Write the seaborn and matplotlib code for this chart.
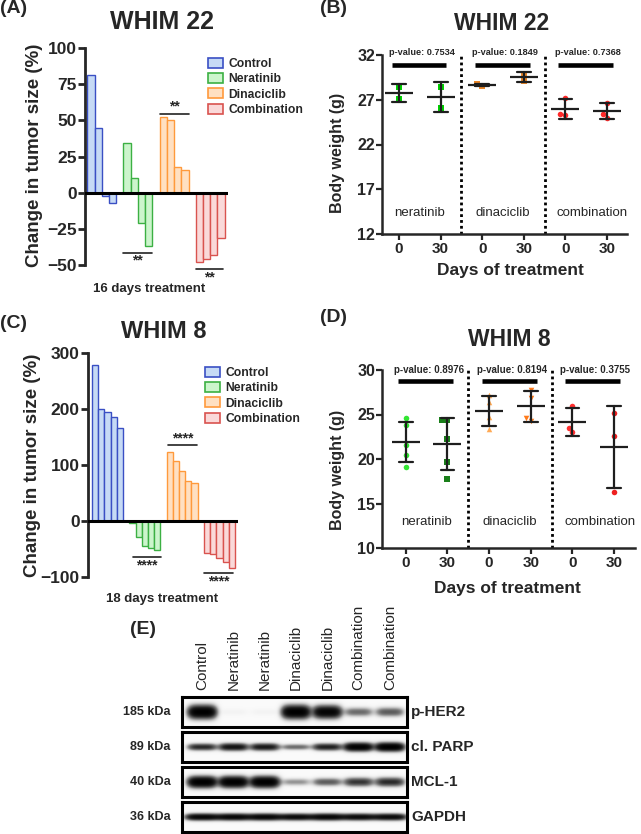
import numpy as np
import pandas as pd
import seaborn as sns
import matplotlib.pyplot as plt
from matplotlib.patches import Patch
import matplotlib.transforms as mtransforms

sns.set_style("ticks")
plt.rcParams["font.family"] = ["Liberation Sans", "DejaVu Sans"]
plt.rcParams["font.weight"] = "bold"
plt.rcParams["axes.labelweight"] = "bold"

# waterfall plots: % change in tumor size per mouse
groups = ["Control", "Neratinib", "Dinaciclib", "Combination"]
w22_control = [81, 45, -2, -7]
w22_neratinib = [34, 10, -21, -37]
w22_dinaciclib = [52, 50, 18, 16]
w22_combination = [-48, -46, -43, -31]

w8_control = [278, 200, 194, 185, 166]
w8_neratinib = [-4, -28, -45, -48, -52]
w8_dinaciclib = [124, 107, 89, 71, 68]
w8_combination = [-56, -59, -66, -72, -84]

face_colors = ["#c6daf5", "#ccf5cc", "#ffe0c2", "#fad9d9"]
edge_colors = ["#3a4fc4", "#3cb043", "#ff9a3c", "#d9534f"]

# body weight (g) at day 0 / day 30
slots = ["ner_0", "ner_30", "din_0", "din_30", "comb_0", "comb_30"]
day_labels = ["0", "30", "0", "30", "0", "30"]
arms = ["neratinib", "dinaciclib", "combination"]
p_w22 = ["0.7534", "0.1849", "0.7368"]
p_w8 = ["0.8976", "0.8194", "0.3755"]

w22_ner_d0 = [28.45, 27.07]
w22_ner_d30 = [28.45, 26.13]
w22_din_d0 = [28.55, 28.75]
w22_din_d30 = [29.1, 29.9]
w22_comb_d0 = [27.2, 25.3, 25.4]
w22_comb_d30 = [26.69, 24.97, 25.46]

w8_ner_d0 = [24.6, 23.8, 21.6, 20.5, 19.1]
w8_ner_d30 = [24.4, 24.4, 22.2, 19.7, 17.7]
w8_din_d0 = [26.4, 27.2, 24.7, 23.4]
w8_din_d30 = [27.8, 26.9, 24.3, 24.6]
w8_comb_d0 = [25.9, 23.5, 23.0]
w8_comb_d30 = [25.15, 22.6, 16.3]

# western blot (relative band darkness per lane)
lanes = ["Control", "Neratinib", "Neratinib", "Dinaciclib", "Dinaciclib",
         "Combination", "Combination"]
proteins = ["p-HER2", "cl. PARP", "MCL-1", "GAPDH"]
kda = ["185 kDa", "89 kDa", "40 kDa", "36 kDa"]
band_pher2 = [1.0, 0.02, 0.02, 1.0, 0.9, 0.3, 0.35]
band_parp = [0.55, 0.7, 0.65, 0.3, 0.6, 0.95, 1.0]
band_mcl1 = [1.0, 1.0, 1.0, 0.2, 0.35, 0.5, 0.55]
band_gapdh = [0.85, 0.85, 0.85, 0.8, 0.85, 0.8, 0.8]

W, H = 641, 834
fig = plt.figure(figsize=(W / 100, H / 100), dpi=100)


def box(x0, y0, x1, y1):
    return [x0 / W, 1 - y1 / H, (x1 - x0) / W, (y1 - y0) / H]


def ftext(x, y, s, **kw):
    fig.text(x / W, 1 - y / H, s, **kw)


def waterfall(ax, series, xlim, ylim, yticks, sigs, legend_at):
    order = []
    for gi, vals in enumerate(series):
        if gi:
            order.append(f"gap{gi}")
        order += [f"{groups[gi]}_{i}" for i in range(len(vals))]
    for gi, vals in enumerate(series):
        bars = [f"{groups[gi]}_{i}" for i in range(len(vals))]
        sns.barplot(x=bars, y=vals, order=order, width=1, color=face_colors[gi],
                    edgecolor=edge_colors[gi], linewidth=1, saturation=1,
                    errorbar=None, ax=ax)
    ax.axhline(0, color="black", lw=2.2, zorder=5)
    ax.set_xlim(*xlim)
    ax.set_ylim(*ylim)
    ax.set_yticks(yticks)
    ax.set_xticks([])
    ax.set_xlabel("")
    ax.set_ylabel("")
    for s in ["top", "right", "bottom"]:
        ax.spines[s].set_visible(False)
    ax.spines["left"].set_linewidth(2)
    ax.tick_params(axis="y", labelsize=12.5, length=5, width=2, pad=1)
    for x0, x1, y, ty, txt in sigs:
        ax.plot([x0, x1], [y, y], color="#222222", lw=1.2, clip_on=False)
        ax.text((x0 + x1) / 2, ty, txt, ha="center", va="center",
                fontsize=10, clip_on=False)
    handles = [Patch(facecolor=f, edgecolor=e, lw=1.2, label=g)
               for f, e, g in zip(face_colors, edge_colors, groups)]
    ax.legend(handles=handles, loc="upper left",
              bbox_to_anchor=(legend_at[0] / W, 1 - legend_at[1] / H),
              bbox_transform=fig.transFigure, frameon=False,
              prop={"weight": "bold", "size": 8.7}, handlelength=1.2,
              handleheight=0.9, handletextpad=0.5, labelspacing=0.25,
              borderpad=0, borderaxespad=0)


def weights(ax, data, markers, colors, pvals, pbar_y, ptext_y, label_y,
            xlim, ylim, yticks, pfs):
    rows = [(s, v) for s, vals in zip(slots, data) for v in vals]
    df = pd.DataFrame(rows, columns=["slot", "weight"])
    for s, vals, m, c in zip(slots, data, markers, colors):
        sns.swarmplot(x=[s] * len(vals), y=vals, order=slots, color=c,
                      marker=m, size=4, ax=ax, zorder=2)
    sns.pointplot(data=df, x="slot", y="weight", order=slots, errorbar="sd",
                  capsize=0.33, color="#1e1e1e", marker="_", markersize=20,
                  markeredgewidth=1.6, linestyle="none",
                  err_kws={"linewidth": 1.6}, ax=ax, zorder=3)
    for xs in [1.5, 3.5]:
        ax.axvline(xs, color="black", lw=2, ls=(0, (1, 1.1)))
    for i in range(3):
        ax.plot([2 * i - 0.18, 2 * i + 1.14], [pbar_y, pbar_y], color="black",
                lw=3.3, solid_capstyle="butt", clip_on=False)
        ax.text(2 * i + 0.55, ptext_y, f"p-value: {pvals[i]}", ha="center",
                va="center", fontsize=pfs, clip_on=False)
        ax.text([0.5, 2.5, 4.65][i], label_y, arms[i], ha="center",
                va="center", fontsize=9.5, fontweight="normal")
    ax.set_xlim(*xlim)
    ax.set_ylim(*ylim)
    ax.set_yticks(yticks)
    ax.set_xticks(range(6))
    ax.set_xticklabels(day_labels)
    ax.set_xlabel("")
    ax.set_ylabel("")
    for s in ["top", "right"]:
        ax.spines[s].set_visible(False)
    for s in ["left", "bottom"]:
        ax.spines[s].set_linewidth(1.8)
    ax.tick_params(axis="y", labelsize=11.5, length=4, width=1.6, pad=1)
    ax.tick_params(axis="x", labelsize=11, length=4, width=1.6, pad=2)


# ---------------- (A) ----------------
axA = fig.add_axes(box(85, 48, 228, 265))
waterfall(axA, [w22_control, w22_neratinib, w22_dinaciclib, w22_combination],
          (-0.82, 18.96), (-50, 100), [-50, -25, 0, 25, 50, 75, 100],
          [(4.5, 8.4, -41.4, -47, "**"), (9.5, 13.5, 54.7, 59.5, "**"),
           (14.5, 18.3, -53, -58.5, "**")], (208, 58))
ftext(0, 0, "(A)", fontsize=14, ha="left", va="top")
ftext(162, 22, "WHIM 22", fontsize=18, ha="center", va="center")
ftext(35, 155, "Change in tumor size (%)", fontsize=13.5, rotation=90,
      ha="center", va="center")
ftext(149, 289, "16 days treatment", fontsize=9.5, ha="center", va="center")

# ---------------- (B) ----------------
axB = fig.add_axes(box(382, 55, 627, 234))
weights(axB, [w22_ner_d0, w22_ner_d30, w22_din_d0, w22_din_d30, w22_comb_d0,
              w22_comb_d30],
        ["s", "s", "s", "s", "o", "o"],
        ["#00d000", "#00d000", "#e8862a", "#e8862a", "#ff2a2a", "#ff2a2a"],
        p_w22, 30.9, 32.25, 14.35, (-0.41, 5.48), (12, 32),
        [12, 17, 22, 27, 32], 6.6)
ftext(320, 0, "(B)", fontsize=14, ha="left", va="top")
ftext(502, 23, "WHIM 22", fontsize=16.5, ha="center", va="center")
ftext(338, 153, "Body weight (g)", fontsize=11.5, rotation=90,
      ha="center", va="center")
ftext(510, 270, "Days of treatment", fontsize=12.5, ha="center", va="center")

# ---------------- (C) ----------------
axC = fig.add_axes(box(88, 353, 238.3, 577.3))
waterfall(axC, [w8_control, w8_neratinib, w8_dinaciclib, w8_combination],
          (-1.14, 23.03), (-100, 300), [-100, 0, 100, 200, 300],
          [(6.1, 10.6, -64, -79, "****"), (11.7, 16.4, 136, 147, "****"),
           (17.5, 22.2, -93, -108, "****")], (205, 367))
ftext(0, 323, "(C)", fontsize=14, ha="left", va="center")
ftext(164, 332, "WHIM 8", fontsize=17, ha="center", va="center")
ftext(33, 465, "Change in tumor size (%)", fontsize=13.5, rotation=90,
      ha="center", va="center")
ftext(162, 599, "18 days treatment", fontsize=9.5, ha="center", va="center")

# ---------------- (D) ----------------
axD = fig.add_axes(box(382, 370, 635, 548))
weights(axD, [w8_ner_d0, w8_ner_d30, w8_din_d0, w8_din_d30, w8_comb_d0,
              w8_comb_d30],
        ["o", "s", "^", "v", "o", "o"],
        ["#33e633", "#1a7f1a", "#ffaa55", "#ff7a1a", "#ff3030", "#ee2020"],
        p_w8, 28.8, 30.0, 12.95, (-0.57, 5.5), (10, 30),
        [10, 15, 20, 25, 30], 7)
ftext(320, 317, "(D)", fontsize=14, ha="left", va="center")
ftext(509, 340, "WHIM 8", fontsize=16.5, ha="center", va="center")
ftext(338, 470, "Body weight (g)", fontsize=11.5, rotation=90,
      ha="center", va="center")
ftext(507, 588, "Days of treatment", fontsize=12.5, ha="center", va="center")

# ---------------- (E) western blot ----------------
ftext(130, 630, "(E)", fontsize=14, ha="left", va="center")
bands = [band_pher2, band_parp, band_mcl1, band_gapdh]
thick = [0.2, 0.13, 0.17, 0.11]
halfw = [0.44, 0.45, 0.45, 0.52]
xs = np.linspace(-0.64, 6.54, 420)
ys = np.linspace(0, 1, 80)
X, Y = np.meshgrid(xs, ys)
for r, top in enumerate([697, 732, 767, 802]):
    ax = fig.add_axes(box(182, top, 407, top + 30))
    img = np.zeros_like(X)
    for i, lv in enumerate(bands[r]):
        h = thick[r] * (0.55 + 0.45 * lv)
        img += lv * np.exp(-np.abs((X - i) / halfw[r]) ** 4) * \
            np.exp(-((Y - 0.5) / h) ** 2)
    img = 1 - np.exp(-3.2 * img) + 0.04
    ax.imshow(img, extent=[-0.64, 6.54, 0, 1], aspect="auto", cmap="Greys",
              vmin=0, vmax=1, origin="lower", interpolation="bilinear")
    ax.set_xlim(-0.64, 6.54)
    ax.set_ylim(0, 1)
    ax.set_xticks([])
    ax.set_yticks([])
    for s in ax.spines.values():
        s.set_linewidth(2.2)
        s.set_color("black")
    ax.text(-0.05, 0.5, kda[r], transform=ax.transAxes, ha="right",
            va="center", fontsize=9)
    ax.text(1.018, 0.5, proteins[r], transform=ax.transAxes, ha="left",
            va="center", fontsize=11)
    if r == 0:
        tr = mtransforms.blended_transform_factory(ax.transData, ax.transAxes)
        for i, lab in enumerate(lanes):
            ax.text(i, 1.23, lab, transform=tr, rotation=90, ha="center",
                    va="bottom", fontsize=11, fontweight="normal")

fig.savefig("out.png", dpi=100)
